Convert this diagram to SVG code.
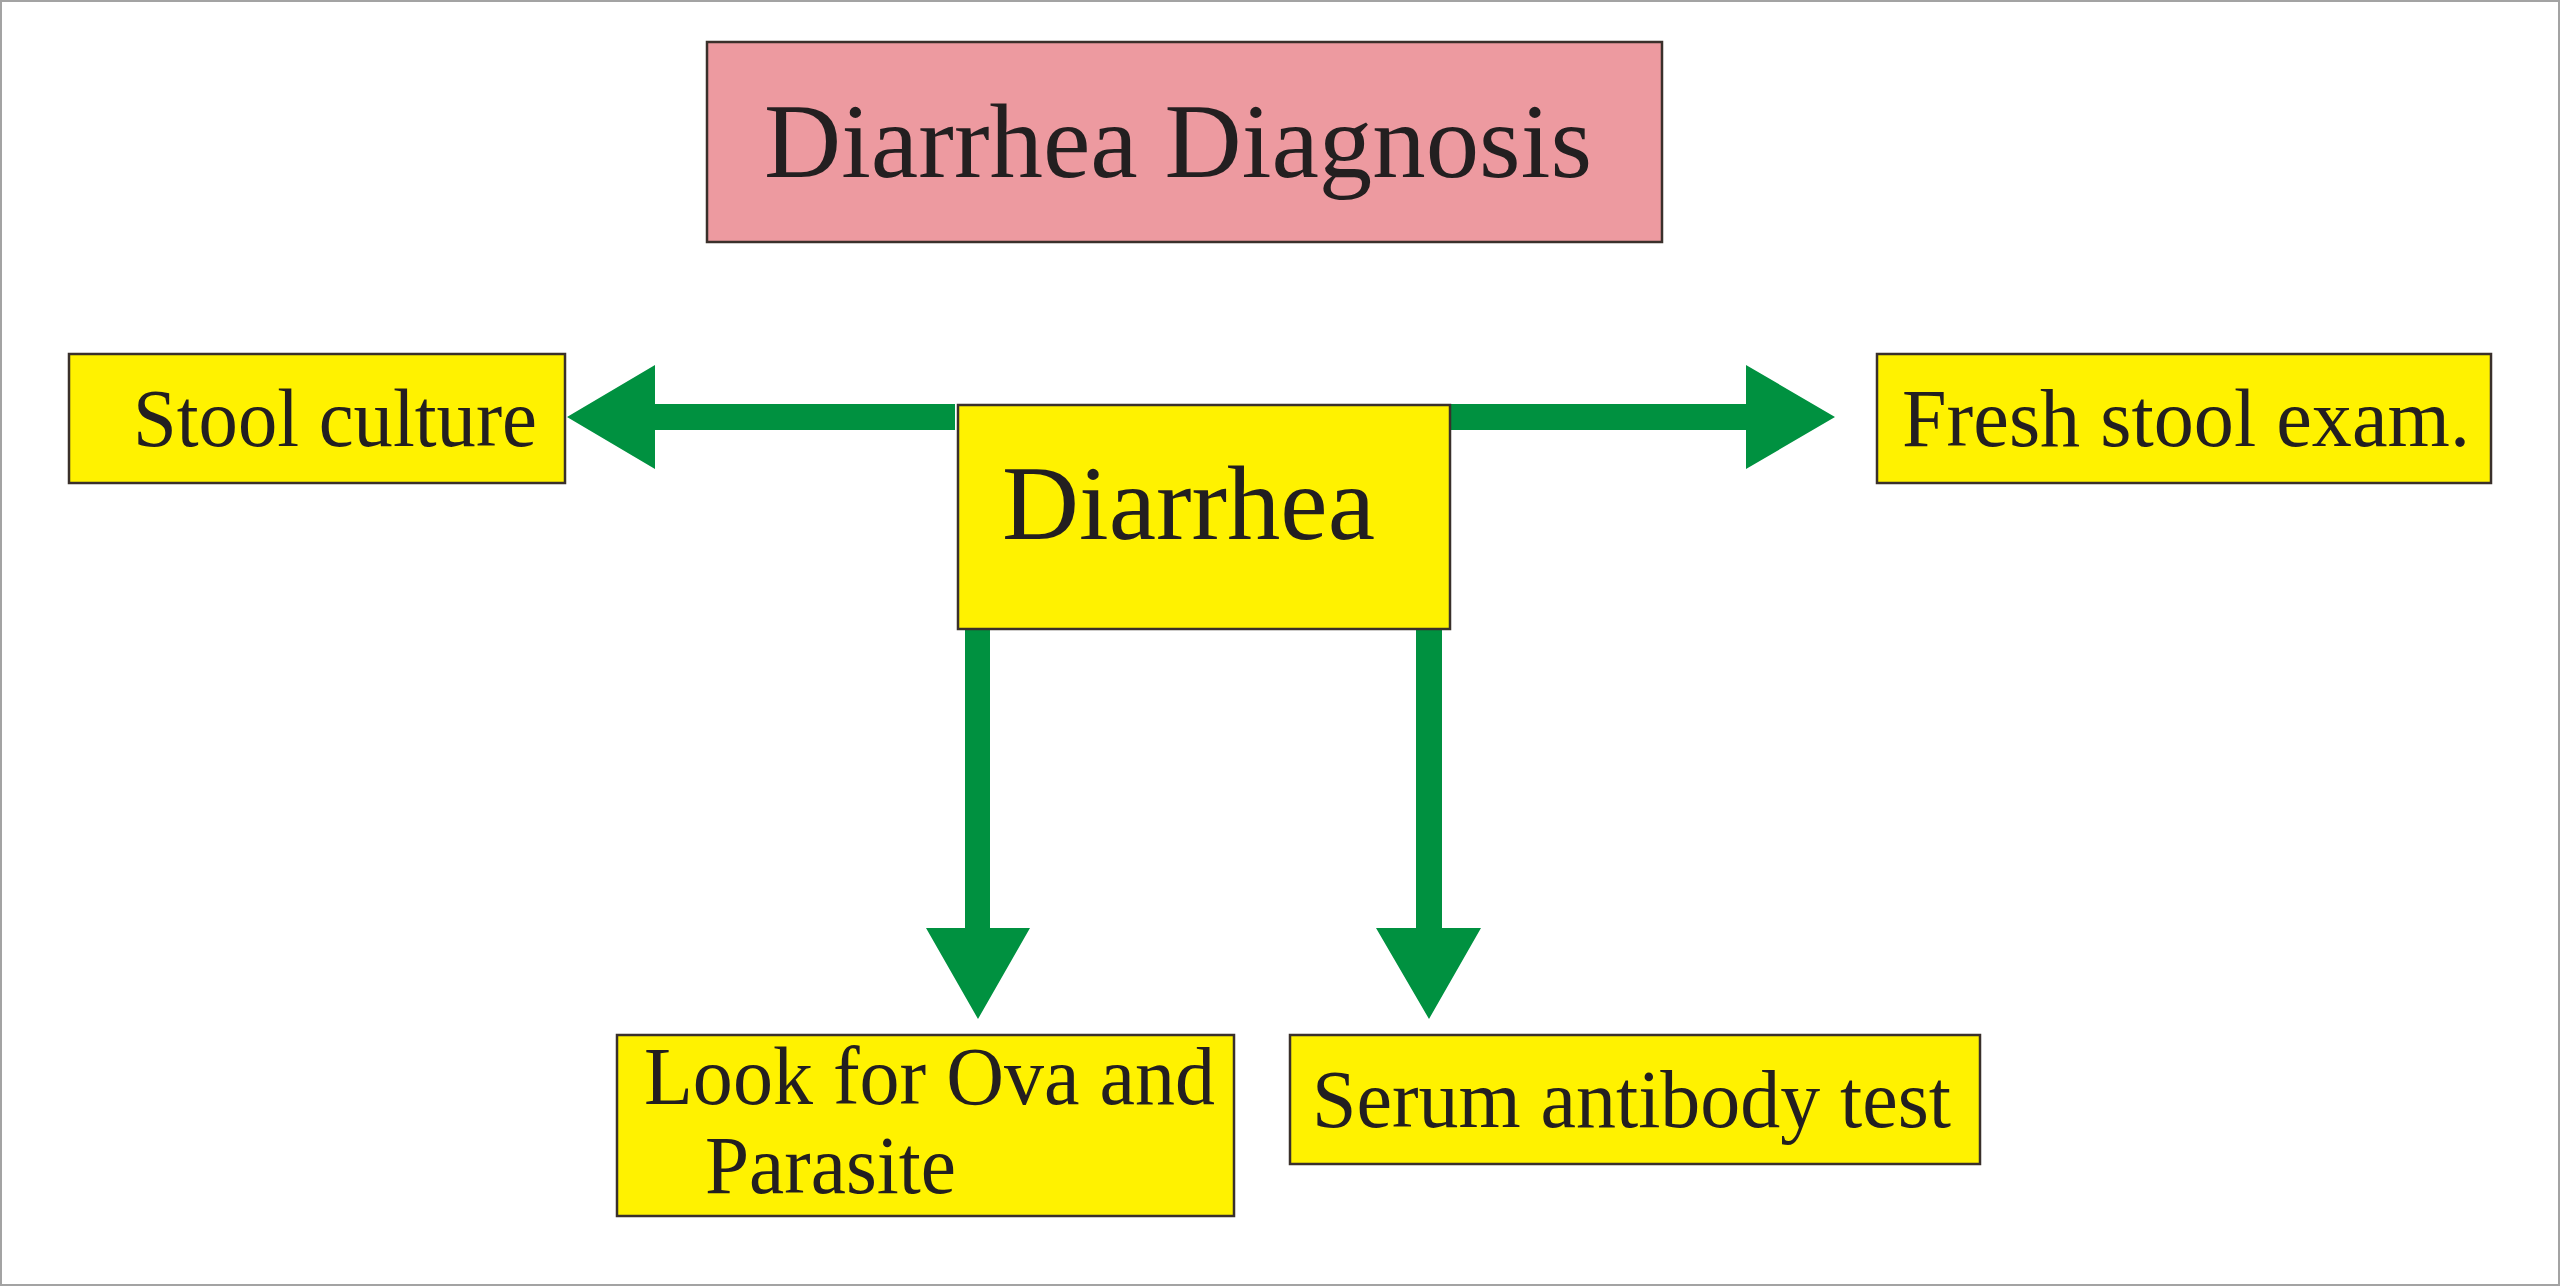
<svg xmlns="http://www.w3.org/2000/svg" width="2560" height="1286" viewBox="0 0 2560 1286">
<style>
.box{stroke:#3a302b;stroke-width:2.5}
.y{fill:#fff200}
.p{fill:#ed9aa0}
.t{font-family:"Liberation Serif","Times New Roman",serif;fill:#231f20}
.big{font-size:106px}
.sm{font-size:83px}
.arr{fill:#009140}
</style>
<rect x="0" y="0" width="2560" height="1286" fill="#ffffff"/>
<rect x="1" y="1" width="2558" height="1284" fill="none" stroke="#a3a3a3" stroke-width="2"/>
<g id="connectors">
<polygon class="arr" points="955,404 655,404 655,365 567,417 655,469 655,430 955,430"/>
<polygon class="arr" points="1449,404 1746,404 1746,365 1835,417 1746,469 1746,430 1449,430"/>
<polygon class="arr" points="965,629 990,629 990,928 1030,928 978,1019 926,928 965,928"/>
<polygon class="arr" points="1416,629 1442,629 1442,928 1481,928 1429,1019 1376,928 1416,928"/>
</g>
<g id="title">
<rect class="box p" x="707" y="42" width="955" height="200"/>
<text class="t big" x="764" y="177" textLength="828" lengthAdjust="spacingAndGlyphs">Diarrhea Diagnosis</text>
</g>
<g id="stool-culture">
<rect class="box y" x="69" y="354" width="496" height="129"/>
<text class="t sm" x="133" y="446" textLength="404" lengthAdjust="spacingAndGlyphs">Stool culture</text>
</g>
<g id="fresh-stool">
<rect class="box y" x="1877" y="354" width="614" height="129"/>
<text class="t sm" x="1902" y="446" textLength="568" lengthAdjust="spacingAndGlyphs">Fresh stool exam.</text>
</g>
<g id="diarrhea">
<rect class="box y" x="958" y="405" width="492" height="224"/>
<text class="t big" x="1002" y="539" textLength="373" lengthAdjust="spacingAndGlyphs">Diarrhea</text>
</g>
<g id="ova-parasite">
<rect class="box y" x="617" y="1035" width="617" height="181"/>
<text class="t sm" x="644" y="1104" textLength="571" lengthAdjust="spacingAndGlyphs">Look for Ova and</text>
<text class="t sm" x="705" y="1193" textLength="251" lengthAdjust="spacingAndGlyphs">Parasite</text>
</g>
<g id="serum">
<rect class="box y" x="1290" y="1035" width="690" height="129"/>
<text class="t sm" x="1312" y="1127" textLength="639" lengthAdjust="spacingAndGlyphs">Serum antibody test</text>
</g>
</svg>
